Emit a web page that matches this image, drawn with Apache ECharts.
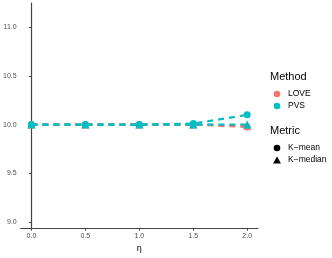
<!DOCTYPE html>
<html><head><meta charset="utf-8">
<script src="https://cdn.jsdelivr.net/npm/echarts@6/dist/echarts.min.js"></script>
<style>html,body{margin:0;padding:0;background:#fff}#c{width:332px;height:258px}</style>
</head><body><div id="c"></div>
<script>
const eta = [0, 0.5, 1, 1.5, 2];
const xTicks = [0, 0.5, 1, 1.5, 2];
const yTicks = [9, 9.5, 10, 10.5, 11];
const loveKmean = [10.0, 10.0, 10.0, 10.0, 9.975];
const loveKmedian = [10.0, 10.0, 10.0, 10.0, 9.99];
const pvsKmean = [10.0, 10.0, 10.0, 10.01, 10.1];
const pvsKmedian = [10.0, 10.0, 10.0, 10.0, 10.0];
const methods = ['LOVE', 'PVS'];
const metrics = ['K\u2212mean', 'K\u2212median'];

const COL = {LOVE: '#F8766D', PVS: '#00BFC4'};
const FONT = 'Liberation Sans, Arial, sans-serif';
function mk(name, vals, method, symbol, size) {
  return {
    name: name, type: 'line', data: eta.map((x, i) => [x, vals[i]]),
    symbol: symbol, symbolSize: size,
    lineStyle: {color: COL[method], width: 2.2, type: [6, 5]},
    itemStyle: {color: COL[method]}, animation: false, z: 2
  };
}
const chart = echarts.init(document.getElementById('c'));
const legendX = 270;
chart.setOption({
  animation: false,
  grid: {left: 20, right: 74, top: 3, bottom: 29},
  xAxis: {
    type: 'value', min: -0.1, max: 2.1,
    name: '\u03b7', nameLocation: 'middle', nameGap: 10,
    nameTextStyle: {fontFamily: FONT, fontSize: 9, color: '#000'},
    splitLine: {show: false},
    axisLine: {lineStyle: {color: '#444', width: 1.2}},
    axisTick: {length: 2.5, lineStyle: {color: '#444'}, customValues: xTicks},
    axisLabel: {customValues: xTicks, fontFamily: FONT, fontSize: 7, color: '#4D4D4D', margin: 4,
      formatter: v => v.toFixed(1)}
  },
  yAxis: {
    type: 'value', min: 8.94, max: 11.245,
    splitLine: {show: false},
    axisLine: {lineStyle: {color: '#444', width: 1.2}},
    axisTick: {length: 2.5, lineStyle: {color: '#444'}, customValues: yTicks},
    axisLabel: {customValues: yTicks, fontFamily: FONT, fontSize: 7, color: '#4D4D4D', margin: 4,
      formatter: v => v.toFixed(1)}
  },
  series: [
    mk('LOVE K-mean', loveKmean, 'LOVE', 'circle', 7),
    mk('LOVE K-median', loveKmedian, 'LOVE', 'triangle', 8),
    mk('PVS K-mean', pvsKmean, 'PVS', 'circle', 7),
    mk('PVS K-median', pvsKmedian, 'PVS', 'triangle', 8)
  ],
  graphic: [
    {type: 'text', left: legendX, top: 71, style: {text: 'Method', font: '11px ' + FONT, fill: '#000'}},
    {type: 'circle', shape: {cx: legendX + 7, cy: 94, r: 3.3}, style: {fill: COL.LOVE}},
    {type: 'text', left: legendX + 18, top: 89, style: {text: methods[0], font: '8.5px ' + FONT, fill: '#000'}},
    {type: 'circle', shape: {cx: legendX + 7, cy: 106, r: 3.3}, style: {fill: COL.PVS}},
    {type: 'text', left: legendX + 18, top: 101, style: {text: methods[1], font: '8.5px ' + FONT, fill: '#000'}},
    {type: 'text', left: legendX, top: 125, style: {text: 'Metric', font: '11px ' + FONT, fill: '#000'}},
    {type: 'circle', shape: {cx: legendX + 7, cy: 148, r: 3.3}, style: {fill: '#000'}},
    {type: 'text', left: legendX + 18, top: 143, style: {text: metrics[0], font: '8.5px ' + FONT, fill: '#000'}},
    {type: 'polygon', shape: {points: [[legendX + 7, 156.5], [legendX + 11, 163.5], [legendX + 3, 163.5]]}, style: {fill: '#000'}},
    {type: 'text', left: legendX + 18, top: 155, style: {text: metrics[1], font: '8.5px ' + FONT, fill: '#000'}}
  ]
});
</script></body></html>
